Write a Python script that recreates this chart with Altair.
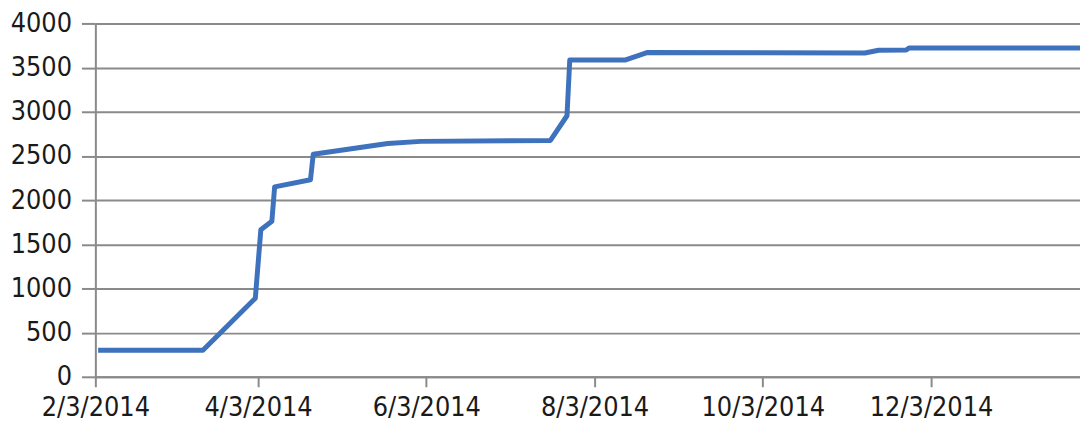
import altair as alt
import pandas as pd

dates = [
    "2014-02-04", "2014-03-14", "2014-04-02", "2014-04-04", "2014-04-08",
    "2014-04-09", "2014-04-22", "2014-04-23", "2014-05-20", "2014-06-01",
    "2014-07-18", "2014-07-24", "2014-07-25", "2014-08-14", "2014-08-22",
    "2014-11-09", "2014-11-14", "2014-11-24", "2014-11-25", "2015-01-26",
]
values = [
    300, 300, 890, 1665, 1760,
    2150, 2230, 2520, 2640, 2665,
    2675, 2955, 3585, 3585, 3670,
    3665, 3697, 3700, 3722, 3722,
]
x_ticks = ["2014-02-03", "2014-04-03", "2014-06-03", "2014-08-03", "2014-10-03", "2014-12-03"]
y_ticks = [0, 500, 1000, 1500, 2000, 2500, 3000, 3500, 4000]

df = pd.DataFrame({"date": pd.to_datetime(dates), "value": values})
tick_vals = [alt.DateTime(year=int(d[:4]), month=int(d[5:7]), date=int(d[8:])) for d in x_ticks]

FONT = "DejaVu Sans Condensed, Liberation Sans Narrow, DejaVu Sans, sans-serif"

chart = alt.Chart(df).mark_line(color="#3f72bd", strokeWidth=5, strokeJoin="round", clip=True).encode(
    x=alt.X(
        "date:T",
        scale=alt.Scale(domain=[alt.DateTime(year=2014, month=2, date=3),
                                alt.DateTime(year=2015, month=1, date=26)], nice=False),
        axis=alt.Axis(
            title=None, values=tick_vals, format="%-m/%-d/%Y", grid=False,
            tickSize=10, tickColor="#8a8a8a", tickWidth=2,
            domainColor="#8a8a8a", domainWidth=2,
            labelFont=FONT, labelFontSize=27, labelColor="#1a1a1a",
            labelBaseline="alphabetic", labelPadding=29,
            labelFlush=False, labelOverlap=False,
        ),
    ),
    y=alt.Y(
        "value:Q",
        scale=alt.Scale(domain=[0, 4000], nice=False),
        axis=alt.Axis(
            title=None, values=y_ticks, format="d", grid=True, gridColor="#8a8a8a", gridWidth=2,
            tickSize=14, tickColor="#8a8a8a", tickWidth=2,
            domainColor="#8a8a8a", domainWidth=2,
            labelFont=FONT, labelFontSize=27, labelColor="#1a1a1a",
            labelPadding=10, labelFlush=False,
        ),
    ),
).properties(
    width=992,
    height=356,
    autosize=alt.AutoSizeParams(type="none"),
    padding={"left": 88, "top": 14, "right": 0, "bottom": 46},
).configure_view(stroke=None).configure(background="white")

chart.save("out.html", embed_options={"renderer": "svg", "actions": False})
